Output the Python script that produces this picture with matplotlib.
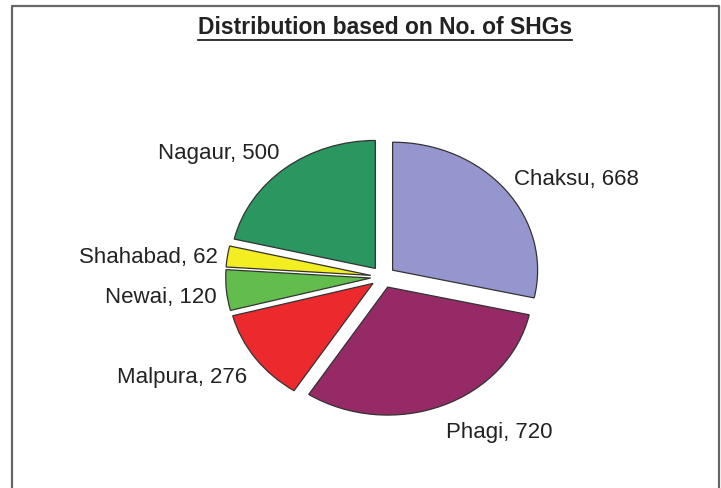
import matplotlib
matplotlib.use("Agg")
import matplotlib.pyplot as plt
from matplotlib.lines import Line2D

# data
districts = ['Chaksu', 'Phagi', 'Malpura', 'Newai', 'Shahabad', 'Nagaur']
shgs = [668, 720, 276, 120, 62, 500]
colors = ['#9696cf', '#962a66', '#ec2a2e', '#62bd4c', '#f2ee22', '#2a9660']
title = 'Distribution based on No. of SHGs'

W, H = 721, 489
fig = plt.figure(figsize=(W / 100, H / 100), dpi=100)
fig.patch.set_facecolor('white')
plt.rcParams['font.family'] = ['Liberation Sans', 'DejaVu Sans']

# axes over the whole figure, scaled so the pie comes out a bit wider than tall
ax = fig.add_axes([0, 0, 1, 1])
cx, cy = 383, H - 278      # pie centre in pixels
rx, ry = 145, 128          # horizontal / vertical radius in pixels

labels = ['%s, %d' % (d, v) for d, v in zip(districts, shgs)]
wedges, texts = ax.pie(shgs, labels=labels, colors=colors, startangle=90,
                       counterclock=False, explode=[0.085] * len(shgs),
                       labeldistance=1.13,
                       wedgeprops=dict(edgecolor='#333333', linewidth=0.9),
                       textprops=dict(fontsize=16, color='#222222'))
# labels sit a little closer sideways and a little lower, like Excel
for tx in texts:
    x, y = tx.get_position()
    tx.set_position((x * 0.95, y * 1.05 - 0.03))
ax.set_aspect('auto')
ax.set_xlim(-cx / rx, (W - cx) / rx)
ax.set_ylim(-cy / ry, (H - cy) / ry)
ax.axis('off')

# title with underline
t = fig.text(0.5 * (196 + 574) / W, 1 - 28 / H, title, ha='center', va='center',
             fontsize=16.5, fontweight='bold', color='#222222')
fig.canvas.draw()
bb = t.get_window_extent(fig.canvas.get_renderer())
uy = bb.y0 - 1
fig.add_artist(Line2D([bb.x0 / W, bb.x1 / W], [uy / H, uy / H],
                      transform=fig.transFigure, color='#222222', lw=1.3))

# frame (no bottom edge, as in the original)
fc = '#666666'
fig.add_artist(Line2D([11.5 / W, 11.5 / W, 719 / W, 719 / W],
                      [0, 1 - 7 / H, 1 - 7 / H, 0],
                      transform=fig.transFigure, color=fc, lw=1.6))

fig.savefig('out.png', dpi=100)
